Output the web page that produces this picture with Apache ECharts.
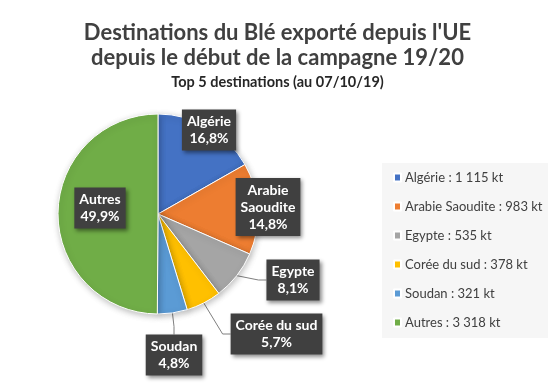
<!DOCTYPE html>
<html>
<head>
<meta charset="utf-8">
<script src="https://cdn.jsdelivr.net/npm/echarts@6/dist/echarts.min.js"></script>
<style>
html,body{margin:0;padding:0;background:#fff;}
#c{width:555px;height:388px;}
</style>
</head>
<body>
<div id="c"></div>
<script>
const categories = ['Algérie', 'Arabie Saoudite', 'Egypte', 'Corée du sud', 'Soudan', 'Autres'];
const values = [1115, 983, 535.4, 378, 321, 3318];
const labelNames = ['Algérie', 'Arabie\nSaoudite', 'Egypte', 'Corée du sud', 'Soudan', 'Autres'];
const colors = ['#4472C4', '#ED7D31', '#A5A5A5', '#FFC000', '#5B9BD5', '#70AD47'];
const outsideLabel = [false, false, true, true, true, false];

const titleText = "Destinations du Blé exporté depuis l'UE\ndepuis le début de la campagne 19/20";
const subtitleText = 'Top 5 destinations (au 07/10/19)';

// label box centres (layout only)
const labelCentres = [[209, 130], [268, 207], [293, 280], [276.5, 334], [174, 355], [100, 208]];

const total = values.reduce((a, b) => a + b, 0);
const fmtKt = v => Math.round(v).toString().replace(/\B(?=(\d{3})+(?!\d))/g, ' ');
const fmtPct = v => (v / total * 100).toFixed(1).replace('.', ',') + '%';
const FONT = 'Lato, "Open Sans", sans-serif';

const chart = echarts.init(document.getElementById('c'), null, {renderer: 'canvas'});
chart.setOption({
  backgroundColor: '#ffffff',
  animation: false,
  title: [{
    text: titleText,
    left: 'center', top: 15,
    textStyle: {fontFamily: FONT, fontSize: 22, fontWeight: 'bold', color: '#404040', lineHeight: 25}
  }, {
    text: subtitleText,
    left: 'center', top: 70,
    textStyle: {fontFamily: FONT, fontSize: 14.5, fontWeight: 'bold', color: '#262626'}
  }],
  graphic: [{
    type: 'rect', left: 382, top: 163, z: -1,
    shape: {width: 166, height: 175},
    style: {fill: '#f6f6f6'}
  }],
  legend: {
    orient: 'vertical',
    left: 393, top: 171,
    padding: 0,
    itemWidth: 7, itemHeight: 8,
    itemGap: 16,
    icon: 'rect',
    data: categories,
    formatter: name => name + ' : ' + fmtKt(values[categories.indexOf(name)]) + ' kt',
    textStyle: {fontFamily: FONT, fontSize: 13, color: '#404040', lineHeight: 13, padding: [0, 0, 0, -1]}
  },
  series: [{
    type: 'pie',
    center: [158, 214],
    radius: 100,
    startAngle: 90,
    clockwise: true,
    avoidLabelOverlap: false,
    itemStyle: {borderColor: '#ffffff', borderWidth: 1, shadowBlur: 6, shadowColor: 'rgba(0,0,0,0.25)', shadowOffsetX: 1, shadowOffsetY: 2},
    label: {
      show: true,
      position: 'outside',
      formatter: p => labelNames[p.dataIndex] + '\n' + fmtPct(values[p.dataIndex]),
      fontFamily: FONT, fontSize: 14, fontWeight: 'bold', color: '#ffffff',
      lineHeight: 17, align: 'center',
      backgroundColor: '#404040',
      padding: [4, 5, 3, 5],
      shadowBlur: 4, shadowColor: 'rgba(0,0,0,0.45)', shadowOffsetX: 2, shadowOffsetY: 2
    },
    labelLine: {show: true, length: 10, length2: 8, lineStyle: {color: '#7f7f7f', width: 1}},
    labelLayout: p => ({
      x: labelCentres[p.dataIndex][0],
      y: labelCentres[p.dataIndex][1],
      align: 'center',
      verticalAlign: 'middle'
    }),
    emphasis: {disabled: true},
    data: categories.map((n, i) => ({
      name: n,
      value: values[i],
      itemStyle: {color: colors[i]},
      labelLine: {show: outsideLabel[i]}
    }))
  }]
});
</script>
</body>
</html>
